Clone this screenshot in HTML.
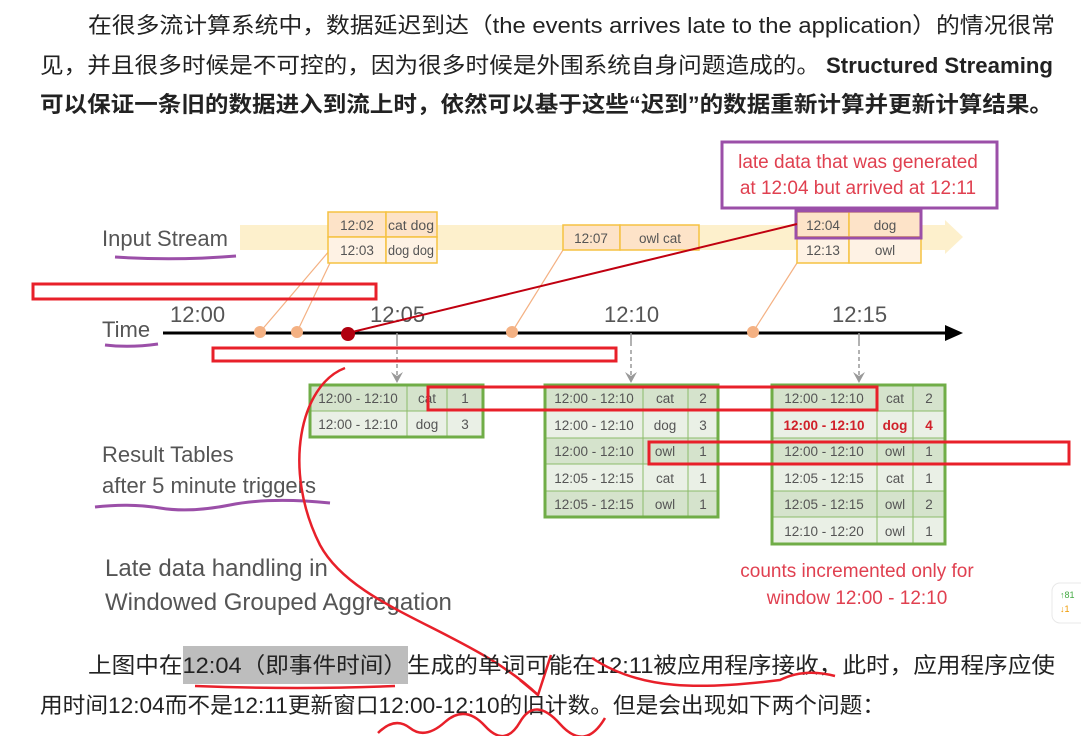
<!DOCTYPE html>
<html><head><meta charset="utf-8"><style>
html,body{margin:0;padding:0;background:#fff;width:1081px;height:736px;overflow:hidden}
svg{display:block}
.cn{font-family:"Liberation Sans","Noto Sans CJK SC",sans-serif;font-size:22px;fill:#222}
.lb{font-family:"Liberation Sans",sans-serif;fill:#555;font-weight:300}
.cell{font-family:"Liberation Sans",sans-serif;font-size:13.5px;fill:#555;text-anchor:middle}
</style></head><body>
<svg width="1081" height="736" viewBox="0 0 1081 736">
<!-- top paragraph -->
<text class="cn" x="88" y="33" textLength="967" lengthAdjust="spacingAndGlyphs">在很多流计算系统中，数据延迟到达（the events arrives late to the application）的情况很常</text>
<text class="cn" x="40" y="73" textLength="780" lengthAdjust="spacingAndGlyphs">见，并且很多时候是不可控的，因为很多时候是外围系统自身问题造成的。</text>
<text class="cn" x="826" y="73" font-weight="bold" textLength="227" lengthAdjust="spacingAndGlyphs">Structured Streaming</text>
<text class="cn" x="40" y="112" font-weight="bold" textLength="1013" lengthAdjust="spacingAndGlyphs">可以保证一条旧的数据进入到流上时，依然可以基于这些“迟到”的数据重新计算并更新计算结果。</text>

<!-- late data callout -->
<rect x="722" y="142" width="275" height="66" fill="#fff" stroke="#9b4fa8" stroke-width="3"/>
<text x="858" y="168" text-anchor="middle" font-family="Liberation Sans" font-size="19" fill="#e04050">late data that was generated</text>
<text x="858" y="194" text-anchor="middle" font-family="Liberation Sans" font-size="19" fill="#e04050">at 12:04 but arrived at 12:11</text>

<!-- input stream band -->
<rect x="240" y="225" width="705" height="25" fill="#fdf0cc"/>
<polygon points="945,220 963,237 945,254" fill="#fdf0cc"/>
<text class="lb" x="102" y="246" font-size="22">Input Stream</text>
<path d="M115 257 Q175 261 236 256" stroke="#9b4fa8" stroke-width="3" fill="none"/>

<!-- thin orange connectors -->
<g stroke="#f4b183" stroke-width="1.2">
<line x1="260" y1="332" x2="330" y2="250"/>
<line x1="297" y1="332" x2="330" y2="263"/>
<line x1="512" y1="332" x2="563" y2="250"/>
<line x1="753" y1="332" x2="797" y2="263"/>
</g>

<!-- input boxes -->
<g stroke="#f5c242" stroke-width="1.5">
<rect x="328" y="212" width="58" height="25" fill="#fde3c8"/><rect x="386" y="212" width="51" height="25" fill="#fde3c8"/>
<rect x="328" y="237" width="58" height="26" fill="#fef2e4"/><rect x="386" y="237" width="51" height="26" fill="#fef2e4"/>
<rect x="563" y="225" width="57" height="25" fill="#fde3c8"/><rect x="620" y="225" width="79" height="25" fill="#fde3c8"/>
<rect x="797" y="212" width="52" height="25" fill="#fde3c8"/><rect x="849" y="212" width="72" height="25" fill="#fde3c8"/>
<rect x="797" y="237" width="52" height="26" fill="#fef2e4"/><rect x="849" y="237" width="72" height="26" fill="#fef2e4"/>
</g>
<text class="cell" x="357" y="230">12:02</text><text class="cell" x="411" y="230" textLength="46" lengthAdjust="spacingAndGlyphs">cat dog</text>
<text class="cell" x="357" y="255">12:03</text><text class="cell" x="411" y="255" textLength="46" lengthAdjust="spacingAndGlyphs">dog dog</text>
<text class="cell" x="591" y="243">12:07</text><text class="cell" x="660" y="243">owl cat</text>
<text class="cell" x="823" y="230" fill="#d0202a">12:04</text><text class="cell" x="885" y="230" fill="#d0202a">dog</text>
<text class="cell" x="823" y="255">12:13</text><text class="cell" x="885" y="255">owl</text>
<rect x="796" y="211" width="125" height="27" fill="none" stroke="#9b4fa8" stroke-width="3"/>

<!-- red rect left -->
<rect x="33" y="284" width="343" height="15" fill="none" stroke="#e8202a" stroke-width="3"/>

<!-- time axis -->
<text class="lb" x="102" y="337" font-size="22">Time</text>
<path d="M105 345 Q130 348 158 344" stroke="#9b4fa8" stroke-width="3" fill="none"/>
<g class="lb" font-size="22"><text x="170" y="322">12:00</text><text x="370" y="322">12:05</text><text x="604" y="322">12:10</text><text x="832" y="322">12:15</text></g>
<line x1="163" y1="333" x2="948" y2="333" stroke="#000" stroke-width="3"/>
<polygon points="945,325 963,333 945,341" fill="#000"/>
<g stroke="#999" stroke-width="1.5">
<line x1="397" y1="333" x2="397" y2="346"/><line x1="631" y1="333" x2="631" y2="346"/><line x1="859" y1="333" x2="859" y2="346"/>
<line x1="397" y1="350" x2="397" y2="380" stroke-dasharray="4 3"/><line x1="631" y1="350" x2="631" y2="380" stroke-dasharray="4 3"/><line x1="859" y1="350" x2="859" y2="380" stroke-dasharray="4 3"/>
</g>
<g fill="#999"><polygon points="391,372 397,383 403,372 397,376"/><polygon points="625,372 631,383 637,372 631,376"/><polygon points="853,372 859,383 865,372 859,376"/></g>
<g fill="#f4b183"><circle cx="260" cy="332" r="6"/><circle cx="297" cy="332" r="6"/><circle cx="512" cy="332" r="6"/><circle cx="753" cy="332" r="6"/></g>
<line x1="348" y1="333" x2="797" y2="224" stroke="#c00010" stroke-width="2"/>
<circle cx="348" cy="334" r="7" fill="#b00010"/>

<rect x="213" y="348" width="403" height="13" fill="none" stroke="#e8202a" stroke-width="3"/>

<!-- result tables -->
<g stroke="#8cbb6a" stroke-width="1">
<rect x="310" y="385" width="173" height="26" fill="#d5e3cc"/><rect x="310" y="411" width="173" height="26" fill="#eaf0e6"/>
<line x1="407" y1="385" x2="407" y2="437"/><line x1="447" y1="385" x2="447" y2="437"/>
<rect x="545" y="385" width="173" height="26" fill="#d5e3cc"/><rect x="545" y="411" width="173" height="27" fill="#eaf0e6"/>
<rect x="545" y="438" width="173" height="26" fill="#d5e3cc"/><rect x="545" y="464" width="173" height="27" fill="#eaf0e6"/>
<rect x="545" y="491" width="173" height="26" fill="#d5e3cc"/>
<line x1="643" y1="385" x2="643" y2="517"/><line x1="688" y1="385" x2="688" y2="517"/>
<rect x="772" y="385" width="173" height="26" fill="#d5e3cc"/><rect x="772" y="411" width="173" height="27" fill="#eaf0e6"/>
<rect x="772" y="438" width="173" height="26" fill="#d5e3cc"/><rect x="772" y="464" width="173" height="27" fill="#eaf0e6"/>
<rect x="772" y="491" width="173" height="26" fill="#d5e3cc"/><rect x="772" y="517" width="173" height="27" fill="#eaf0e6"/>
<line x1="877" y1="385" x2="877" y2="544"/><line x1="913" y1="385" x2="913" y2="544"/>
</g>
<g fill="none" stroke="#70ad47" stroke-width="3">
<rect x="310" y="385" width="173" height="52"/><rect x="545" y="385" width="173" height="132"/><rect x="772" y="385" width="173" height="159"/>
</g>
<g class="cell">
<text x="358" y="403">12:00 - 12:10</text><text x="427" y="403">cat</text><text x="465" y="403">1</text>
<text x="358" y="429">12:00 - 12:10</text><text x="427" y="429">dog</text><text x="465" y="429">3</text>
<text x="594" y="403">12:00 - 12:10</text><text x="665" y="403">cat</text><text x="703" y="403">2</text>
<text x="594" y="430">12:00 - 12:10</text><text x="665" y="430">dog</text><text x="703" y="430">3</text>
<text x="594" y="456">12:00 - 12:10</text><text x="665" y="456">owl</text><text x="703" y="456">1</text>
<text x="594" y="483">12:05 - 12:15</text><text x="665" y="483">cat</text><text x="703" y="483">1</text>
<text x="594" y="509">12:05 - 12:15</text><text x="665" y="509">owl</text><text x="703" y="509">1</text>
<text x="824" y="403">12:00 - 12:10</text><text x="895" y="403">cat</text><text x="929" y="403">2</text>
<g fill="#d0202a" font-weight="bold"><text x="824" y="430">12:00 - 12:10</text><text x="895" y="430">dog</text><text x="929" y="430">4</text></g>
<text x="824" y="456">12:00 - 12:10</text><text x="895" y="456">owl</text><text x="929" y="456">1</text>
<text x="824" y="483">12:05 - 12:15</text><text x="895" y="483">cat</text><text x="929" y="483">1</text>
<text x="824" y="509">12:05 - 12:15</text><text x="895" y="509">owl</text><text x="929" y="509">2</text>
<text x="824" y="536">12:10 - 12:20</text><text x="895" y="536">owl</text><text x="929" y="536">1</text>
</g>
<rect x="428" y="387" width="449" height="23" fill="none" stroke="#e8202a" stroke-width="3"/>
<rect x="649" y="442" width="420" height="22" fill="none" stroke="#e8202a" stroke-width="3"/>

<text class="lb" x="102" y="462" font-size="22">Result Tables</text>
<text class="lb" x="102" y="493" font-size="22">after 5 minute triggers</text>
<path d="M95 507 Q130 503 160 508 T230 505 T330 503" stroke="#9b4fa8" stroke-width="3" fill="none"/>
<text class="lb" x="105" y="576" font-size="24">Late data handling in</text>
<text class="lb" x="105" y="610" font-size="24">Windowed Grouped Aggregation</text>
<text x="857" y="577" text-anchor="middle" font-family="Liberation Sans" font-size="19" fill="#e04050">counts incremented only for</text>
<text x="857" y="604" text-anchor="middle" font-family="Liberation Sans" font-size="19" fill="#e04050">window 12:00 - 12:10</text>

<!-- hand drawn red -->
<path d="M345 368 C300 385 282 470 320 545 C355 610 470 630 538 695" stroke="#e8202a" stroke-width="2.5" fill="none"/>
<path d="M520 680 L538 695 L551 655" stroke="#e8202a" stroke-width="2.5" fill="none"/>

<!-- side widget -->
<rect x="1052" y="583" width="40" height="40" rx="8" fill="#fff" stroke="#e8e8e8"/>
<text x="1060" y="598" font-family="Liberation Sans" font-size="9" fill="#4a4">↑81</text>
<text x="1060" y="612" font-family="Liberation Sans" font-size="9" fill="#e90">↓1</text>

<!-- bottom paragraph -->
<rect x="183" y="646" width="225" height="38" fill="#bdbdbd"/>
<text class="cn" x="88" y="673" textLength="967" lengthAdjust="spacingAndGlyphs">上图中在12:04（即事件时间）生成的单词可能在12:11被应用程序接收，此时，应用程序应使</text>
<text class="cn" x="40" y="713" textLength="845" lengthAdjust="spacingAndGlyphs">用时间12:04而不是12:11更新窗口12:00-12:10的旧计数。但是会出现如下两个问题：</text>
<path d="M195 686 Q300 690 395 686" stroke="#e8202a" stroke-width="2.5" fill="none"/>
<path d="M592 658 C640 690 700 690 780 680 C800 670 820 672 835 676" stroke="#e8202a" stroke-width="2.5" fill="none"/>
<path d="M378 733 Q395 716 410 728 T445 722 T485 726 T520 722 T560 724 T605 718" stroke="#e8202a" stroke-width="2.5" fill="none"/>
</svg>
</body></html>
